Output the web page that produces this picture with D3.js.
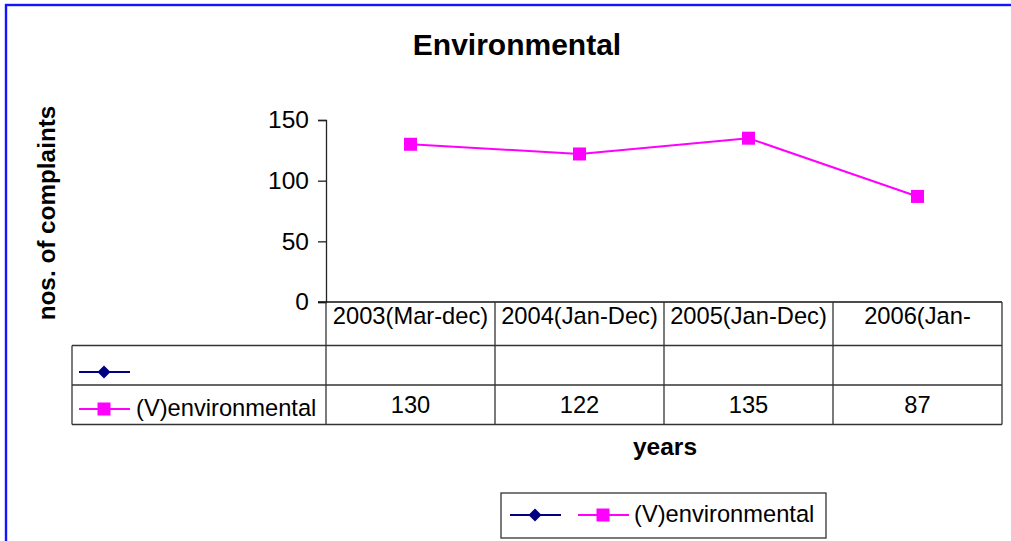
<!DOCTYPE html>
<html>
<head>
<meta charset="utf-8">
<script src="https://cdn.jsdelivr.net/npm/d3@7"></script>
<style>
  html, body { margin: 0; padding: 0; background: #fff; }
  svg { display: block; }
  text { font-family: "Liberation Sans", Arial, sans-serif; fill: #000; }
</style>
</head>
<body>
<svg id="chart" width="1011" height="541"></svg>
<script>
// Complaint counts per reporting period
const categories = ["2003(Mar-dec)", "2004(Jan-Dec)", "2005(Jan-Dec)", "2006(Jan-"];
const environmental = [130, 122, 135, 87];
const emptySeries = [null, null, null, null];
const yTicks = [0, 50, 100, 150];
const seriesNames = ["", "(V)environmental"];

const svg = d3.select("#chart");
const W = 1011, H = 541;
const FS = 23.7;

// outer chart frame
svg.append("rect")
  .attr("x", 6).attr("y", 5)
  .attr("width", W + 20).attr("height", H + 20)
  .attr("fill", "#fff")
  .attr("stroke", "#1414ff").attr("stroke-width", 2.4);

// title
svg.append("text")
  .attr("x", 517).attr("y", 55)
  .attr("text-anchor", "middle")
  .attr("font-size", 30).attr("font-weight", "bold")
  .text("Environmental");

const plot = { left: 326, right: 1002, top: 120, bottom: 302 };

const x = d3.scaleBand().domain(categories).range([plot.left, plot.right]);
const y = d3.scaleLinear().domain([0, 150]).range([plot.bottom, plot.top]);

// y axis
const yAxis = svg.append("g")
  .attr("transform", `translate(${plot.left},0)`)
  .call(d3.axisLeft(y).tickValues(yTicks).tickSize(8).tickPadding(9));
yAxis.select(".domain").attr("stroke", "#222").attr("stroke-width", 1.3);
yAxis.selectAll(".tick line").attr("stroke", "#222").attr("stroke-width", 1.3);
yAxis.selectAll(".tick text")
  .attr("font-size", 24.5)
  .attr("font-family", "Liberation Sans, Arial, sans-serif")
  .attr("fill", "#000");

// y axis title
svg.append("text")
  .attr("transform", "translate(55,213) rotate(-90)")
  .attr("text-anchor", "middle")
  .attr("font-size", 24.3).attr("font-weight", "bold")
  .text("nos. of complaints");

// data table under the plot
const rowY = [plot.bottom, 345.5, 385, 424.5];
const tableLeft = 72;
const grid = svg.append("g").attr("stroke", "#333").attr("stroke-width", 1.3).attr("fill", "none");

// x axis line (top of the table)
grid.append("line")
  .attr("x1", plot.left - 8).attr("x2", plot.right)
  .attr("y1", rowY[0]).attr("y2", rowY[0]).attr("stroke", "#111");
// horizontal rules of the legend rows
[rowY[1], rowY[2], rowY[3]].forEach(v => {
  grid.append("line")
    .attr("x1", tableLeft).attr("x2", plot.right)
    .attr("y1", v).attr("y2", v);
});
// vertical rules between periods
categories.forEach(c => {
  grid.append("line")
    .attr("x1", x(c)).attr("x2", x(c))
    .attr("y1", rowY[0]).attr("y2", rowY[3]);
});
grid.append("line")
  .attr("x1", plot.right).attr("x2", plot.right)
  .attr("y1", rowY[0]).attr("y2", rowY[3]);
grid.append("line")
  .attr("x1", tableLeft).attr("x2", tableLeft)
  .attr("y1", rowY[1]).attr("y2", rowY[3]);

// category labels
svg.append("g").selectAll("text")
  .data(categories).join("text")
  .attr("x", d => x(d) + x.bandwidth() / 2)
  .attr("y", 324)
  .attr("text-anchor", "middle")
  .attr("font-size", FS)
  .text(d => d);

// values row
svg.append("g").selectAll("text")
  .data(environmental).join("text")
  .attr("x", (d, i) => x(categories[i]) + x.bandwidth() / 2)
  .attr("y", 413)
  .attr("text-anchor", "middle")
  .attr("font-size", FS)
  .text(d => d);

// marker helpers
const diamond = "M0,-6.5L6.5,0L0,6.5L-6.5,0Z";
function drawDiamondKey(g, cx, cy) {
  g.append("line").attr("x1", cx - 25).attr("x2", cx + 26)
    .attr("y1", cy).attr("y2", cy)
    .attr("stroke", "#000080").attr("stroke-width", 2);
  g.append("path")
    .attr("d", diamond)
    .attr("transform", `translate(${cx},${cy})`)
    .attr("fill", "#000080");
}
function drawSquareKey(g, cx, cy) {
  g.append("line").attr("x1", cx - 25).attr("x2", cx + 26)
    .attr("y1", cy).attr("y2", cy)
    .attr("stroke", "#ff00ff").attr("stroke-width", 2);
  g.append("rect")
    .attr("x", cx - 6.5).attr("y", cy - 6.5)
    .attr("width", 13).attr("height", 13)
    .attr("fill", "#ff00ff");
}

// legend keys inside the table
const tableKeys = svg.append("g");
drawDiamondKey(tableKeys, 104, 372);
drawSquareKey(tableKeys, 104, 409);
tableKeys.append("text")
  .attr("x", 136).attr("y", 416)
  .attr("font-size", FS)
  .text(seriesNames[1]);

// environmental series line
const line = d3.line()
  .defined(d => d != null)
  .x((d, i) => x(categories[i]) + x.bandwidth() / 2)
  .y(d => y(d));

svg.append("path")
  .datum(environmental)
  .attr("d", line)
  .attr("fill", "none")
  .attr("stroke", "#ff00ff")
  .attr("stroke-width", 2);

svg.append("path")
  .datum(emptySeries)
  .attr("d", line)
  .attr("fill", "none")
  .attr("stroke", "#000080")
  .attr("stroke-width", 2);

svg.append("g").selectAll("rect")
  .data(environmental).join("rect")
  .attr("x", (d, i) => x(categories[i]) + x.bandwidth() / 2 - 6.5)
  .attr("y", d => y(d) - 6.5)
  .attr("width", 13).attr("height", 13)
  .attr("fill", "#ff00ff");

// x axis title
svg.append("text")
  .attr("x", 665).attr("y", 455)
  .attr("text-anchor", "middle")
  .attr("font-size", 24.5).attr("font-weight", "bold")
  .text("years");

// bottom legend
const legend = svg.append("g");
legend.append("rect")
  .attr("x", 501).attr("y", 493)
  .attr("width", 325).attr("height", 45)
  .attr("fill", "#fff")
  .attr("stroke", "#333").attr("stroke-width", 1.3);
drawDiamondKey(legend, 535, 515);
drawSquareKey(legend, 603, 515);
legend.append("text")
  .attr("x", 634).attr("y", 522)
  .attr("font-size", FS)
  .text(seriesNames[1]);
</script>
</body>
</html>
